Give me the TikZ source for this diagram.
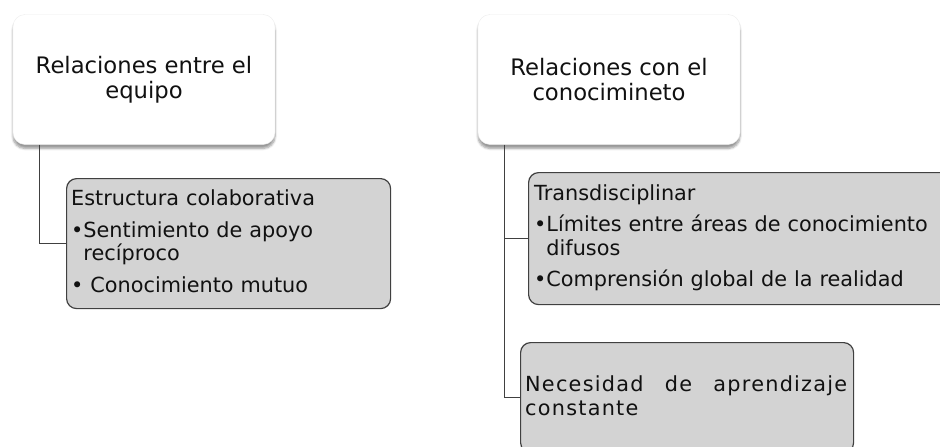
\documentclass[tikz,border=0pt]{standalone}
\usepackage{fontspec}
\setmainfont{DejaVu Sans}
\newfontfamily\spacedfont[LetterSpace=6]{DejaVu Sans}
\usetikzlibrary{shadows.blur}
\definecolor{boxgrey}{HTML}{D3D3D3}
\definecolor{linegrey}{HTML}{404040}
\definecolor{inkgrey}{HTML}{111111}
\newlength{\dotwidth}
\newcommand{\itemdot}[1]{\settowidth{\dotwidth}{\textbullet}\hangindent=\dotwidth\hangafter=1 \textbullet#1\par}

\begin{document}
\begin{tikzpicture}[x=1pt,y=-1pt,
  headbox/.style={fill=white, draw=gray!15, rounded corners=12pt, blur shadow={shadow xshift=0pt, shadow yshift=-4pt, shadow blur steps=6, shadow opacity=40}, minimum width=262pt, minimum height=130pt, text=inkgrey, align=center, font=\fontsize{22.7}{25}\selectfont},
  subbox/.style={fill=boxgrey, draw=linegrey, line width=1.2pt, rounded corners=10pt, inner sep=0pt, anchor=north west},
  subtext/.style={anchor=north west, inner sep=0pt, text=inkgrey, font=\fontsize{20.8}{23.5}\selectfont},
  link/.style={draw=linegrey, line width=1.3pt}]
\useasboundingbox (0,0) rectangle (940,447);
\clip (0,0) rectangle (940,447);

% left branch
\node (hdrA) [headbox] at (144,79.5) {Relaciones entre el\\equipo};
\node (subA) [subbox, minimum width=324pt, minimum height=130pt] at (66,178) {};
\node (subAtxt) [subtext, text width=312pt] at ([shift={(5,11.5)}]subA.north west)
  {\setlength{\parskip}{8pt}Estructura colaborativa\par
   \itemdot{Sentimiento de apoyo recíproco}
   \itemdot{ Conocimiento mutuo}};
\draw[link] (hdrA.south west) ++(27,0) |- (subA.west);

% right branch
\node (hdrB) [headbox] at (609,79.5) {Relaciones con el\\conocimineto};
\node (subB1) [subbox, minimum width=440pt, minimum height=132pt] at (528,172) {};
\node (subB1txt) [subtext, text width=400pt] at ([shift={(6,12)}]subB1.north west)
  {\setlength{\parskip}{8pt}Transdisciplinar\par
   \itemdot{Límites entre áreas de conocimiento difusos}
   \itemdot{Comprensión global de la realidad}};
\node (subB2) [subbox, minimum width=333pt, minimum height=110pt] at (520,342) {};
\node (subB2txt) [subtext, text width=322pt, align=justify] at ([shift={(5,33.5)}]subB2.north west)
  {\spacedfont Necesidad de aprendizaje \mbox{constante}};
\draw[link] (hdrB.south west) ++(27,0) coordinate (trunkB) |- (subB2.west);
\draw[link] (trunkB |- subB1.west) -- (subB1.west);
\end{tikzpicture}
\end{document}
